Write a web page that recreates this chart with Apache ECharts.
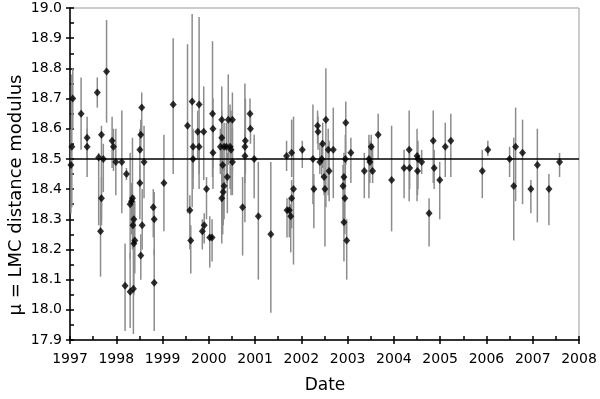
<!doctype html>
<html>
<head>
<meta charset="utf-8">
<title>LMC distance modulus</title>
<script src="https://cdn.jsdelivr.net/npm/echarts@6/dist/echarts.min.js"></script>
<style>
    html,body{
        margin: 0;
        padding: 0;
        background: #fff;
    }
    #chart{
        width: 600px;
        height: 399px;
    }
</style>
</head>
<body>
<div id="chart"></div>
<script>
    // date of each measurement, distance modulus, lower and upper end of its error bar
    var dates = [1997.02,1997.04,1997.06,1997.24,1997.37,1997.37,1997.59,1997.62,1997.68,1997.68,
                 1997.66,1997.72,1997.79,1997.91,1997.94,1997.99,1998.12,1998.22,1998.19,1998.30,
                 1998.30,1998.33,1998.35,1998.37,1998.38,1998.36,1998.40,1998.38,1998.51,1998.53,
                 1998.55,1998.51,1998.56,1998.53,1998.60,1998.80,1998.82,1998.82,1999.03,1999.23,
                 1999.54,1999.59,1999.61,1999.64,1999.66,1999.66,1999.76,1999.79,1999.79,1999.89,
                 1999.95,1999.90,1999.86,2000.02,2000.07,2000.08,2000.09,2000.09,2000.28,2000.28,
                 2000.25,2000.30,2000.33,2000.31,2000.28,2000.33,2000.38,2000.42,2000.46,2000.48,
                 2000.51,2000.40,2000.51,2000.73,2000.78,2000.78,2000.79,2000.89,2000.90,2000.98,
                 2001.07,2001.34,2001.68,2001.79,2001.69,2001.74,2001.77,2001.79,2001.83,2002.02,
                 2002.25,2002.27,2002.35,2002.36,2002.46,2002.44,2002.40,2002.49,2002.51,2002.53,
                 2002.58,2002.69,2002.60,2002.96,2002.95,2002.92,2002.90,2002.94,2002.92,2002.98,
                 2003.07,2003.36,2003.46,2003.48,2003.51,2003.54,2003.66,2003.95,2004.22,2004.33,
                 2004.34,2004.50,2004.52,2004.51,2004.60,2004.76,2004.85,2004.87,2004.99,2005.11,
                 2005.23,2005.91,2006.03,2006.50,2006.59,2006.63,2006.78,2006.96,2007.10,2007.35,
                 2007.58];
    var mu = [18.48,18.54,18.70,18.65,18.57,18.54,18.72,18.505,18.58,18.37,
              18.26,18.50,18.79,18.56,18.54,18.49,18.49,18.45,18.08,18.35,
              18.06,18.36,18.37,18.07,18.30,18.28,18.23,18.22,18.53,18.58,
              18.67,18.42,18.28,18.18,18.49,18.34,18.30,18.09,18.42,18.68,
              18.61,18.33,18.23,18.69,18.54,18.50,18.59,18.68,18.54,18.59,
              18.40,18.28,18.26,18.24,18.24,18.65,18.60,18.52,18.63,18.57,
              18.54,18.48,18.41,18.39,18.37,18.54,18.54,18.63,18.54,18.53,
              18.63,18.44,18.49,18.34,18.51,18.54,18.56,18.65,18.60,18.50,
              18.31,18.25,18.51,18.52,18.33,18.33,18.31,18.37,18.40,18.53,
              18.50,18.40,18.61,18.59,18.55,18.50,18.49,18.44,18.40,18.63,
              18.53,18.53,18.46,18.62,18.50,18.44,18.41,18.37,18.29,18.23,
              18.52,18.46,18.50,18.49,18.54,18.46,18.58,18.43,18.47,18.53,
              18.47,18.51,18.50,18.46,18.49,18.32,18.56,18.47,18.43,18.54,
              18.56,18.46,18.53,18.50,18.41,18.54,18.52,18.40,18.48,18.40,
              18.49];
    var errLow = [18.32,18.34,18.60,18.53,18.50,18.44,18.67,18.28,18.30,18.28,
                  18.11,18.39,18.62,18.47,18.46,18.38,18.32,18.43,17.93,18.17,
                  17.94,18.25,18.20,17.92,18.16,18.20,18.12,18.05,18.40,18.52,
                  18.58,18.30,18.20,18.10,18.37,18.24,18.18,17.93,18.26,18.45,
                  18.32,18.20,18.12,18.34,18.44,18.40,18.50,18.40,18.45,18.43,
                  18.30,18.22,18.20,18.14,18.16,18.44,18.47,18.40,18.50,18.40,
                  18.45,18.25,18.30,18.28,18.22,18.46,18.42,18.48,18.40,18.38,
                  18.46,18.32,18.38,18.18,18.29,18.42,18.45,18.60,18.55,18.37,
                  18.10,17.99,18.46,18.44,18.24,18.24,18.19,18.27,18.15,18.47,
                  18.35,18.27,18.55,18.53,18.47,18.44,18.45,18.38,18.21,18.34,
                  18.38,18.37,18.36,18.48,18.40,18.30,18.30,18.25,18.16,18.10,
                  18.42,18.37,18.37,18.42,18.45,18.42,18.50,18.26,18.37,18.36,
                  18.40,18.36,18.40,18.38,18.45,18.21,18.42,18.40,18.30,18.44,
                  18.44,18.37,18.51,18.44,18.23,18.36,18.35,18.32,18.29,18.28,
                  18.44];
    var errHigh = [18.60,18.78,18.80,18.77,18.64,18.60,18.77,18.52,18.61,18.44,
                   18.38,18.55,18.96,18.64,18.60,18.60,18.66,18.47,18.22,18.52,
                   18.19,18.42,18.57,18.20,18.38,18.35,18.36,18.30,18.60,18.63,
                   18.72,18.48,18.40,18.25,18.61,18.40,18.39,18.20,18.58,18.90,
                   18.88,18.38,18.28,18.98,18.60,18.55,18.66,18.97,18.60,18.74,
                   18.44,18.32,18.30,18.31,18.30,18.89,18.70,18.60,18.74,18.66,
                   18.60,18.58,18.48,18.45,18.45,18.62,18.62,18.78,18.68,18.66,
                   18.72,18.52,18.60,18.44,18.60,18.75,18.70,18.70,18.64,18.58,
                   18.49,18.49,18.56,18.63,18.37,18.37,18.35,18.43,18.64,18.56,
                   18.68,18.45,18.66,18.64,18.62,18.56,18.55,18.50,18.46,18.80,
                   18.60,18.67,18.56,18.69,18.58,18.52,18.48,18.45,18.38,18.30,
                   18.57,18.52,18.58,18.56,18.58,18.55,18.65,18.61,18.53,18.66,
                   18.52,18.60,18.56,18.52,18.53,18.37,18.66,18.53,18.49,18.62,
                   18.65,18.53,18.56,18.54,18.57,18.67,18.63,18.43,18.60,18.45,
                   18.52];
    var refMu = 18.5;

    var chart = echarts.init(document.getElementById('chart'), null, {renderer: 'canvas'});

    var errData = [], pointData = [];
    for (var i = 0; i < dates.length; i++) {
        errData.push([dates[i], errLow[i], errHigh[i]]);
        pointData.push([dates[i], mu[i]]);
    }

    function renderErr(params, api) {
        var x = api.value(0);
        var a = api.coord([x, api.value(1)]);
        var b = api.coord([x, api.value(2)]);
        return {
            type: 'line',
            shape: {x1: a[0], y1: a[1], x2: b[0], y2: b[1]},
            style: {stroke: '#8c8c8c', lineWidth: 1.5}
        };
    }

    var font = 'DejaVu Sans';
    var tickLabel = {color: '#000', fontFamily: font, fontSize: 14};

    var option = {
        animation: false,
        backgroundColor: '#fff',
        grid: {
            left: 70, right: 21, top: 8, bottom: 59,
            show: true, borderColor: '#9a9a9a', borderWidth: 1, backgroundColor: '#fff'
        },
        xAxis: [{
            type: 'value', min: 1997, max: 2008, interval: 1,
            axisLine: {lineStyle: {color: '#000', width: 1.5}},
            axisTick: {inside: false, length: 4, lineStyle: {color: '#000', width: 1.5}},
            axisLabel: Object.assign({margin: 12, formatter: function(v){ return String(Math.round(v)); }}, tickLabel),
            splitLine: {show: false}
        }, {
            type: 'value', min: 1997, max: 2008, interval: 1, position: 'bottom',
            axisLine: {show: false},
            axisTick: {inside: true, length: 4, lineStyle: {color: '#000', width: 1.5}},
            minorTick: {show: true, splitNumber: 2, length: 4, lineStyle: {color: '#000', width: 1.5}},
            axisLabel: {show: false},
            splitLine: {show: false}
        }],
        yAxis: [{
            type: 'value', min: 17.9, max: 19.0, interval: 0.1,
            axisLine: {lineStyle: {color: '#000', width: 1.5}},
            axisTick: {inside: false, length: 4, lineStyle: {color: '#000', width: 1.5}},
            axisLabel: Object.assign({margin: 8, formatter: function(v){ return v.toFixed(1); }}, tickLabel),
            splitLine: {show: false}
        }, {
            type: 'value', min: 17.9, max: 19.0, interval: 0.1, position: 'left',
            axisLine: {show: false},
            axisTick: {inside: true, length: 4, lineStyle: {color: '#000', width: 1.5}},
            minorTick: {show: true, splitNumber: 2, length: 4, lineStyle: {color: '#000', width: 1.5}},
            axisLabel: {show: false},
            splitLine: {show: false}
        }],
        graphic: [{
            type: 'text', x: 325, y: 386,
            style: {text: 'Date', fontFamily: font, fontSize: 17, fill: '#000', align: 'center', verticalAlign: 'middle'}
        }, {
            type: 'text', x: 16, y: 195, rotation: Math.PI / 2,
            style: {text: 'μ = LMC distance modulus', fontFamily: font, fontSize: 18, fill: '#000', align: 'center', verticalAlign: 'middle'}
        }],
        series: [{
            type: 'custom',
            renderItem: renderErr,
            encode: {x: 0, y: [1, 2]},
            data: errData,
            clip: true,
            z: 2
        }, {
            type: 'scatter',
            symbol: 'diamond',
            symbolSize: [7, 8],
            itemStyle: {color: '#000'},
            data: pointData,
            z: 4,
            markLine: {
                silent: true,
                symbol: 'none',
                label: {show: false},
                lineStyle: {color: '#000', width: 1.5, type: 'solid'},
                data: [{yAxis: refMu}]
            }
        }]
    };

    chart.setOption(option);
</script>
</body>
</html>
